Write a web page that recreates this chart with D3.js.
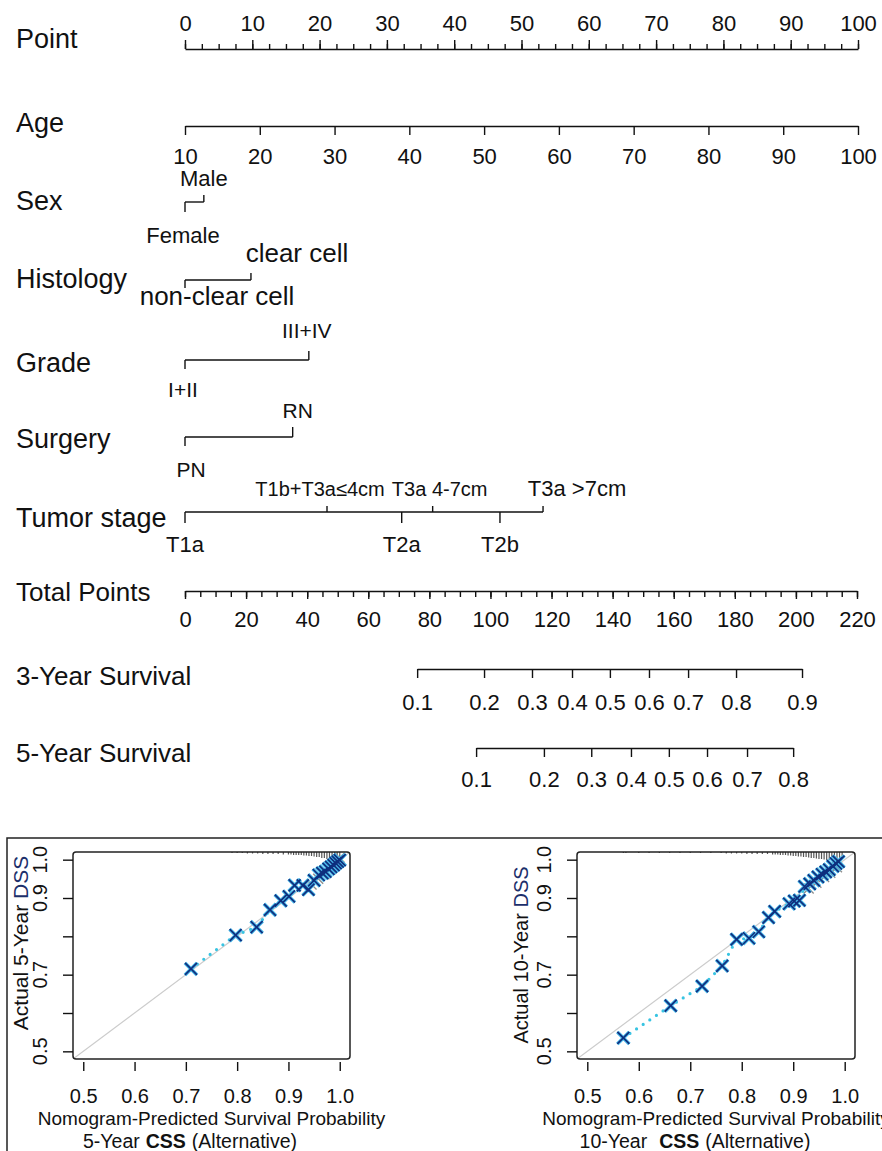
<!DOCTYPE html>
<html>
<head>
<meta charset="utf-8">
<title>Nomogram and calibration</title>
<script src="https://cdn.jsdelivr.net/npm/d3@7/dist/d3.min.js"></script>
<style>
  body { margin: 0; background: #fff; }
  svg { display: block; }
  text { font-family: "Liberation Sans", Arial, sans-serif; fill: #111; }
</style>
</head>
<body>
<div id="chart"></div>
<script>
// ---- nomogram values ----
var pointTicks = [0, 10, 20, 30, 40, 50, 60, 70, 80, 90, 100]
var ageTicks = [10, 20, 30, 40, 50, 60, 70, 80, 90, 100]
var sexLevels = ['Female', 'Male']
var sexPoints = [0, 2.8]
var histologyLevels = ['non-clear cell', 'clear cell']
var histologyPoints = [0, 9.8]
var gradeLevels = ['I+II', 'III+IV']
var gradePoints = [0, 18.4]
var surgeryLevels = ['PN', 'RN']
var surgeryPoints = [0, 16.0]
var stageLevels = ['T1a', 'T1b+T3a≤4cm', 'T2a', 'T3a 4-7cm', 'T2b', 'T3a >7cm']
var stagePoints = [0, 21.1, 32.2, 36.8, 46.8, 53.2]
var totalTicks = [0, 20, 40, 60, 80, 100, 120, 140, 160, 180, 200, 220]
var surv3Probs = [0.1, 0.2, 0.3, 0.4, 0.5, 0.6, 0.7, 0.8, 0.9]
var surv3Points = [76.0, 97.9, 113.6, 126.7, 139.1, 151.9, 164.7, 180.4, 202.0]
var surv5Probs = [0.1, 0.2, 0.3, 0.4, 0.5, 0.6, 0.7, 0.8]
var surv5Points = [95.3, 117.5, 133.0, 146.0, 158.4, 170.9, 184.0, 199.1]

// ---- calibration values ----
var calTicks = [0.5, 0.6, 0.7, 0.8, 0.9, 1.0]
var calYLabels = [0.5, 0.7, 0.9, 1.0]
var cal5Pred = [0.710, 0.797, 0.838, 0.864, 0.885, 0.901, 0.912, 0.928, 0.939, 0.950, 0.959, 0.966, 0.972, 0.978, 0.983, 0.988, 0.992, 0.996, 1.000]
var cal5Obs  = [0.715, 0.803, 0.824, 0.869, 0.893, 0.904, 0.933, 0.933, 0.922, 0.946, 0.960, 0.965, 0.969, 0.976, 0.981, 0.986, 0.991, 0.995, 0.999]
var gray5Pred = [0.945, 0.958, 0.970, 0.982, 0.992, 1.000]
var gray5Obs  = [0.935, 0.950, 0.962, 0.975, 0.990, 1.005]
var rug5Pred = [0.79, 0.80, 0.81, 0.82, 0.83, 0.84, 0.85, 0.86, 0.87, 0.88, 0.89, 0.90, 0.905, 0.91, 0.915, 0.92, 0.925, 0.93, 0.935, 0.94, 0.945, 0.95, 0.955, 0.96, 0.965, 0.97, 0.975, 0.98, 0.985, 0.99, 0.995, 1.0]
var rug5Count = [1, 1, 1, 1.5, 1.5, 1.5, 2, 2, 2, 2, 2.5, 2.5, 2.5, 3, 3, 3, 3, 3.5, 3.5, 4, 4, 4.5, 5, 5, 6, 6, 7, 8, 9, 10, 10, 8]

var cal10Pred = [0.570, 0.662, 0.723, 0.762, 0.790, 0.814, 0.833, 0.852, 0.864, 0.892, 0.902, 0.912, 0.922, 0.932, 0.940, 0.948, 0.956, 0.963, 0.970, 0.977, 0.983, 0.988]
var cal10Obs  = [0.535, 0.619, 0.670, 0.723, 0.792, 0.795, 0.812, 0.849, 0.865, 0.885, 0.892, 0.894, 0.930, 0.937, 0.946, 0.955, 0.962, 0.968, 0.974, 0.983, 0.990, 0.995]
var gray10Pred = [0.930, 0.945, 0.960, 0.972, 0.985]
var gray10Obs  = [0.925, 0.940, 0.955, 0.966, 0.980]
var rug10Pred = [0.57, 0.575, 0.60, 0.62, 0.64, 0.66, 0.68, 0.70, 0.72, 0.74, 0.76, 0.77, 0.78, 0.79, 0.80, 0.81, 0.82, 0.83, 0.84, 0.85, 0.86, 0.865, 0.87, 0.875, 0.88, 0.885, 0.89, 0.895, 0.90, 0.905, 0.91, 0.915, 0.92, 0.925, 0.93, 0.935, 0.94, 0.945, 0.95, 0.955, 0.96, 0.965, 0.97, 0.975, 0.98, 0.985, 0.99, 0.995]
var rug10Count = [1, 1, 1, 1, 1, 1, 1, 1, 1, 1, 1, 1.5, 1.5, 1.5, 1.5, 2, 2, 2, 2, 2, 2.5, 2.5, 2.5, 3, 3, 3, 3.5, 3.5, 4, 4, 4.5, 4.5, 5, 5, 5.5, 6, 6, 6.5, 7, 7, 7.5, 8, 8, 8.5, 9, 9, 8, 7]

var W = 882, H = 1151
var FONT = '"Liberation Sans", Arial, sans-serif'

var svg = d3.select('#chart').append('svg')
  .attr('width', W)
  .attr('height', H)

// points axis scale, shared by all predictor rows
var px = d3.scaleLinear().domain([0, 100]).range([185, 858])
var agePts = d3.scaleLinear().domain([10, 100]).range([0, 100])
var ageX = d3.scaleLinear().domain(agePts.domain()).range(agePts.range().map(px))
var tot = d3.scaleLinear().domain([0, 220]).range([185, 857])
var s3 = d3.scaleLinear().domain(surv3Probs).range(surv3Points.map(tot))
var s5 = d3.scaleLinear().domain(surv5Probs).range(surv5Points.map(tot))

function styleAxis(g, size) {
  g.attr('font-size', size).attr('font-family', FONT).style('color', '#111')
  g.selectAll('path, line').attr('stroke-width', 1.4)
}

function rowLabel(text, y, size) {
  svg.append('text')
    .attr('x', 16)
    .attr('y', y)
    .attr('font-size', size)
    .text(text)
}

// Point
rowLabel('Point', 48, 27)
var gPoint = svg.append('g').attr('transform', 'translate(0,49)')
gPoint.append('g')
  .call(d3.axisTop(px).tickValues(d3.range(0, 100.01, 2.5)).tickSize(5).tickSizeOuter(0).tickFormat(''))
  .call(styleAxis, 22)
gPoint.append('g')
  .call(d3.axisTop(px).tickValues(pointTicks).tickSize(9).tickPadding(9).tickSizeOuter(0))
  .call(styleAxis, 22)
  .call(function (g) { g.select('.domain').remove() })

// Age
rowLabel('Age', 132, 27)
svg.append('g').attr('transform', 'translate(0,126)')
  .call(d3.axisBottom(ageX).tickValues(ageTicks).tickSize(9).tickPadding(13).tickSizeOuter(0))
  .call(styleAxis, 22)

// categorical predictors
var rows = [
  { label: 'Sex', labelY: 210, lineY: 202, levels: sexLevels, points: sexPoints,
    up: 7, down: 10, above: -16, below: 41, dx: [-2, 0], size: [22, 22] },
  { label: 'Histology', labelY: 288, lineY: 280, levels: histologyLevels, points: histologyPoints,
    up: 7, down: 8, above: -18, below: 25, dx: [32, 46], size: [26, 26] },
  { label: 'Grade', labelY: 372, lineY: 360, levels: gradeLevels, points: gradePoints,
    up: 9, down: 9, above: -22, below: 37, dx: [-2, -2], size: [21, 21] },
  { label: 'Surgery', labelY: 448, lineY: 437, levels: surgeryLevels, points: surgeryPoints,
    up: 10, down: 9, above: -19, below: 40, dx: [6, 5], size: [21, 21] },
  { label: 'Tumor stage', labelY: 527, lineY: 512, levels: stageLevels, points: stagePoints,
    up: 6, down: 11, above: -16, below: 40, dx: [0, -7, 0, 7, 0, 34], size: [22, 20, 22, 20, 22, 22] }
]

rows.forEach(function (r) {
  rowLabel(r.label, r.labelY, 27)
  var g = svg.append('g')
  var lv = r.levels.map(function (name, i) {
    return { name: name, x: px(r.points[i]), up: i % 2 === 1, dx: r.dx[i], size: r.size[i] }
  })
  g.append('line')
    .attr('x1', d3.min(lv, function (d) { return d.x }))
    .attr('x2', d3.max(lv, function (d) { return d.x }))
    .attr('y1', r.lineY).attr('y2', r.lineY)
    .attr('stroke', '#111').attr('stroke-width', 1.4)
  g.selectAll('line.tk').data(lv).enter().append('line')
    .attr('class', 'tk')
    .attr('x1', function (d) { return d.x })
    .attr('x2', function (d) { return d.x })
    .attr('y1', r.lineY)
    .attr('y2', function (d) { return d.up ? r.lineY - r.up : r.lineY + r.down })
    .attr('stroke', '#111').attr('stroke-width', 1.4)
  g.selectAll('text').data(lv).enter().append('text')
    .attr('x', function (d) { return d.x + d.dx })
    .attr('y', function (d) { return d.up ? r.lineY + r.above : r.lineY + r.below })
    .attr('text-anchor', 'middle')
    .attr('font-size', function (d) { return d.size })
    .text(function (d) { return d.name })
})

// Total Points
rowLabel('Total Points', 601, 26)
var gTot = svg.append('g').attr('transform', 'translate(0,591)')
gTot.append('g')
  .call(d3.axisBottom(tot).tickValues(d3.range(0, 220.01, 5)).tickSize(6).tickSizeOuter(0).tickFormat(''))
  .call(styleAxis, 22)
gTot.append('g')
  .call(d3.axisBottom(tot).tickValues(totalTicks).tickSize(8).tickPadding(12).tickSizeOuter(0))
  .call(styleAxis, 22)
  .call(function (g) { g.select('.domain').remove() })

// survival scales
rowLabel('3-Year Survival', 685, 26)
svg.append('g').attr('transform', 'translate(0,669)')
  .call(d3.axisBottom(s3).tickValues(surv3Probs).tickFormat(d3.format('.1f')).tickSize(9).tickPadding(16).tickSizeOuter(0))
  .call(styleAxis, 22)

rowLabel('5-Year Survival', 762, 26)
svg.append('g').attr('transform', 'translate(0,748)')
  .call(d3.axisBottom(s5).tickValues(surv5Probs).tickFormat(d3.format('.1f')).tickSize(9).tickPadding(14).tickSizeOuter(0))
  .call(styleAxis, 22)

// frame around the calibration panels
svg.append('path')
  .attr('d', 'M7,1151V838H882')
  .attr('fill', 'none').attr('stroke', '#222').attr('stroke-width', 1.5)

function cross(g, pts, x, y, r, color, width) {
  g.selectAll(null).data(pts).enter().append('path')
    .attr('d', function (d) {
      var cx = x(d[0]), cy = y(d[1])
      return 'M' + (cx - r) + ',' + (cy - r) + 'L' + (cx + r) + ',' + (cy + r) +
             'M' + (cx - r) + ',' + (cy + r) + 'L' + (cx + r) + ',' + (cy - r)
    })
    .attr('stroke', color).attr('stroke-width', width).attr('fill', 'none')
}

function calPlot(o) {
  var x = d3.scaleLinear().domain([0.48, 1.02]).range([o.x0, o.x1])
  var y = d3.scaleLinear().domain([0.48, 1.02]).range([o.y1, o.y0])
  var g = svg.append('g')

  g.append('clipPath').attr('id', o.id)
    .append('rect').attr('x', o.x0).attr('y', o.y0).attr('width', o.x1 - o.x0).attr('height', o.y1 - o.y0)
  var inner = g.append('g').attr('clip-path', 'url(#' + o.id + ')')

  // ideal line
  inner.append('line')
    .attr('x1', x(0.48)).attr('y1', y(0.48)).attr('x2', x(1.02)).attr('y2', y(1.02))
    .attr('stroke', '#cccccc').attr('stroke-width', 1.2)

  // distribution of predictions along the top
  inner.selectAll('line.rug').data(d3.zip(o.rugPred, o.rugCount)).enter().append('line')
    .attr('class', 'rug')
    .attr('x1', function (d) { return x(d[0]) })
    .attr('x2', function (d) { return x(d[0]) })
    .attr('y1', o.y0)
    .attr('y2', function (d) { return o.y0 + d[1] })
    .attr('stroke', '#555').attr('stroke-width', 1.2)

  var pts = d3.zip(o.pred, o.obs)
  cross(inner, d3.zip(o.grayPred, o.grayObs), x, y, 5, '#8c8c8c', 1.3)

  inner.append('path').datum(pts)
    .attr('d', d3.line().x(function (d) { return x(d[0]) }).y(function (d) { return y(d[1]) }))
    .attr('fill', 'none').attr('stroke', '#38c4e2').attr('stroke-width', 3.2)
    .attr('stroke-linecap', 'round').attr('stroke-dasharray', '0,8')

  cross(inner, pts, x, y, 6, '#49b9ea', 3.6)
  cross(inner, pts, x, y, 6, '#0f2f7e', 1.7)

  g.append('rect')
    .attr('x', o.x0).attr('y', o.y0).attr('width', o.x1 - o.x0).attr('height', o.y1 - o.y0)
    .attr('rx', 3).attr('fill', 'none').attr('stroke', '#222').attr('stroke-width', 1.5)

  // x axis
  var ax = g.append('g').attr('transform', 'translate(0,' + (o.y1 + 3) + ')')
    .call(d3.axisBottom(x).tickValues(calTicks).tickSize(9).tickPadding(18).tickFormat(d3.format('.1f')))
    .call(styleAxis, 20)
  ax.select('.domain').remove()

  // y axis, labels turned like base R
  var ay = g.append('g').attr('transform', 'translate(' + o.x0 + ',0)')
    .call(d3.axisLeft(y).tickValues(calTicks).tickSize(10).tickFormat(''))
    .call(styleAxis, 20)
  ay.select('.domain').remove()
  g.selectAll('text.ylab').data(calYLabels).enter().append('text')
    .attr('class', 'ylab')
    .attr('transform', function (d) { return 'translate(' + o.yLabX + ',' + y(d) + ') rotate(-90)' })
    .attr('text-anchor', 'middle')
    .attr('font-size', 20)
    .text(d3.format('.1f'))

  var yt = g.append('text')
    .attr('transform', 'translate(' + o.yTitleX + ',' + o.yTitleY + ') rotate(-90)')
    .attr('text-anchor', 'middle')
    .attr('font-size', o.yTitleSize)
  yt.append('tspan').text(o.yTitle + ' ')
  yt.append('tspan').attr('fill', '#1c2f6b').style('fill', '#1c2f6b').text('DSS')

  g.append('text')
    .attr('x', (o.x0 + o.x1) / 2)
    .attr('y', 1125)
    .attr('text-anchor', 'middle')
    .attr('font-size', 19)
    .text('Nomogram-Predicted Survival Probability')

  var st = g.append('text')
    .attr('x', o.subX)
    .attr('y', 1148)
    .attr('text-anchor', 'middle')
    .attr('font-size', 19.5)
  st.append('tspan').text(o.subTitle)
  st.append('tspan').attr('dx', o.subGap).attr('font-weight', 'bold').text('CSS')
  st.append('tspan').attr('dx', 6).text('(Alternative)')
}

calPlot({
  id: 'clip5', x0: 73, x1: 350, y0: 852, y1: 1059,
  pred: cal5Pred, obs: cal5Obs, grayPred: gray5Pred, grayObs: gray5Obs,
  rugPred: rug5Pred, rugCount: rug5Count,
  yLabX: 47, yTitleX: 28, yTitleY: 943, yTitleSize: 21, yTitle: 'Actual 5-Year',
  subX: 190, subTitle: '5-Year', subGap: 6
})

calPlot({
  id: 'clip10', x0: 577, x1: 855, y0: 852, y1: 1059,
  pred: cal10Pred, obs: cal10Obs, grayPred: gray10Pred, grayObs: gray10Obs,
  rugPred: rug10Pred, rugCount: rug10Count,
  yLabX: 551, yTitleX: 528, yTitleY: 955, yTitleSize: 20, yTitle: 'Actual 10-Year',
  subX: 695, subTitle: '10-Year', subGap: 12
})
</script>
</body>
</html>
